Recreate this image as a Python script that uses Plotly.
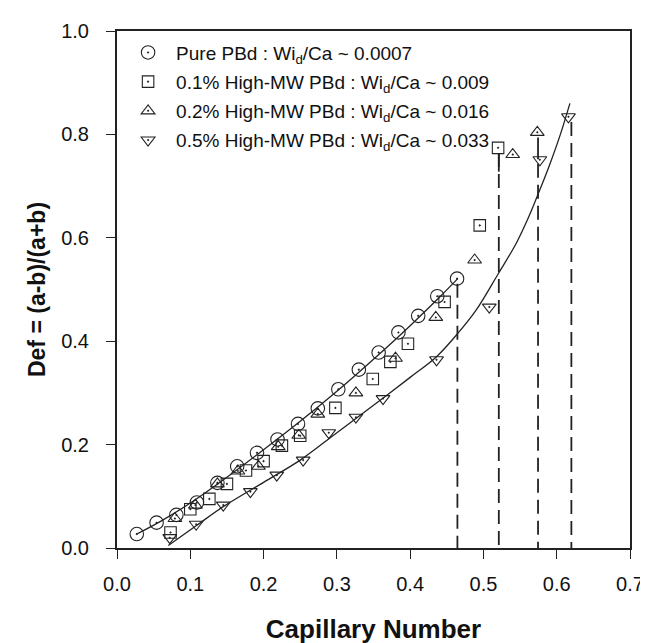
import plotly.graph_objects as go

# ---- data ----
pure_x = [0.027, 0.054, 0.081, 0.109, 0.137, 0.164, 0.191, 0.219, 0.247, 0.274,
          0.302, 0.330, 0.357, 0.384, 0.411, 0.437, 0.464]
pure_y = [0.027, 0.049, 0.064, 0.088, 0.126, 0.158, 0.184, 0.210, 0.240, 0.270,
          0.307, 0.345, 0.378, 0.417, 0.449, 0.487, 0.521]

p01_x = [0.073, 0.100, 0.126, 0.150, 0.176, 0.200, 0.225, 0.250, 0.298, 0.349,
         0.373, 0.397, 0.447, 0.495, 0.520]
p01_y = [0.030, 0.075, 0.095, 0.124, 0.150, 0.168, 0.198, 0.217, 0.271, 0.327,
         0.360, 0.395, 0.476, 0.624, 0.774]

p02_x = [0.079, 0.107, 0.137, 0.165, 0.193, 0.220, 0.248, 0.274, 0.326, 0.380,
         0.435, 0.488, 0.540, 0.5735]
p02_y = [0.057, 0.083, 0.124, 0.149, 0.158, 0.196, 0.218, 0.259, 0.300, 0.367,
         0.446, 0.557, 0.761, 0.804]

p05_x = [0.072, 0.108, 0.145, 0.182, 0.218, 0.254, 0.289, 0.326, 0.363, 0.436,
         0.508, 0.577, 0.616]
p05_y = [0.020, 0.046, 0.083, 0.109, 0.141, 0.170, 0.223, 0.253, 0.289, 0.364,
         0.466, 0.751, 0.834]

# fitted curves
fit_pure_x = [0.027, 0.06, 0.1, 0.15, 0.2, 0.25, 0.3, 0.35, 0.4, 0.44, 0.465]
fit_pure_y = [0.027, 0.052, 0.087, 0.137, 0.190, 0.245, 0.303, 0.365, 0.430, 0.485, 0.521]

fit_p05_x = [0.070, 0.108, 0.145, 0.2, 0.25, 0.3, 0.35, 0.4, 0.436, 0.465, 0.49,
             0.52, 0.545, 0.562, 0.575, 0.59, 0.605, 0.618]
fit_p05_y = [0.005, 0.043, 0.080, 0.127, 0.170, 0.223, 0.276, 0.330, 0.370, 0.415, 0.460,
             0.530, 0.590, 0.641, 0.686, 0.740, 0.800, 0.860]

# critical capillary numbers (vertical drop lines)
crit_x = [0.4645, 0.521, 0.5745, 0.620]
crit_top = [0.511, 0.764, 0.743, 0.824]
solid_x = [0.521, 0.5745]
solid_lo = [0.728, 0.752]
solid_hi = [0.764, 0.794]

names = [
    "Pure PBd : Wi<sub>d</sub>/Ca ~ 0.0007",
    "0.1% High-MW PBd : Wi<sub>d</sub>/Ca ~ 0.009",
    "0.2% High-MW PBd : Wi<sub>d</sub>/Ca ~ 0.016",
    "0.5% High-MW PBd : Wi<sub>d</sub>/Ca ~ 0.033",
]

INK = "#222222"
TXT = "#111111"
FONT = "Liberation Sans, Arial, sans-serif"

fig = go.Figure()

# fit curves
fig.add_trace(go.Scatter(x=fit_pure_x, y=fit_pure_y, mode="lines",
                         line=dict(color=INK, width=1.3, shape="spline"),
                         showlegend=False, hoverinfo="skip"))
fig.add_trace(go.Scatter(x=fit_p05_x, y=fit_p05_y, mode="lines",
                         line=dict(color=INK, width=1.3, shape="spline"),
                         showlegend=False, hoverinfo="skip"))

# dashed drop lines
for cx, ct in zip(crit_x, crit_top):
    fig.add_trace(go.Scatter(x=[cx, cx], y=[ct, 0], mode="lines",
                             line=dict(color=INK, width=1.8, dash="14px,7px"),
                             showlegend=False, hoverinfo="skip"))
for sx, lo, hi in zip(solid_x, solid_lo, solid_hi):
    fig.add_trace(go.Scatter(x=[sx, sx], y=[hi, lo], mode="lines",
                             line=dict(color=INK, width=1.8),
                             showlegend=False, hoverinfo="skip"))

series = [
    (pure_x, pure_y, "circle-open-dot", 13.5),
    (p01_x, p01_y, "square-open-dot", 11.5),
    (p02_x, p02_y, "triangle-up-open-dot", 12),
    (p05_x, p05_y, "triangle-down-open-dot", 12),
]
for i, (xs, ys, sym, sz) in enumerate(series):
    fig.add_trace(go.Scatter(
        x=xs, y=ys, mode="markers", name=names[i], legendgroup=f"g{i}",
        marker=dict(symbol=sym, size=sz, color=INK, line=dict(color=INK, width=1.1)),
    ))

fig.update_layout(
    width=648, height=643,
    margin=dict(l=109, r=15, t=19, b=96),
    paper_bgcolor="white", plot_bgcolor="white",
    font=dict(family=FONT, size=19, color=TXT),
    showlegend=True,
    legend=dict(x=0.006, y=0.995, xanchor="left", yanchor="top",
                bgcolor="rgba(0,0,0,0)", font=dict(size=19, color=TXT),
                tracegroupgap=1.5, itemwidth=46),
    xaxis=dict(range=[0, 0.7], tick0=0, dtick=0.1, tickformat=".1f",
               showline=True, linecolor=INK, linewidth=2, mirror=True,
               ticks="outside", ticklen=9, tickwidth=1.3, tickcolor=INK,
               showgrid=False, zeroline=False, ticklabelstandoff=8,
               tickfont=dict(size=20, color=TXT),
               title=dict(text="<b>Capillary Number</b>", font=dict(size=26, color=TXT), standoff=26)),
    yaxis=dict(range=[0, 1.0], tick0=0, dtick=0.2, tickformat=".1f",
               showline=True, linecolor=INK, linewidth=2, mirror=True,
               ticks="outside", ticklen=9, tickwidth=1.3, tickcolor=INK,
               showgrid=False, zeroline=False, ticklabelstandoff=13,
               tickfont=dict(size=20, color=TXT),
               title=dict(text="<b>Def = (a-b)/(a+b)</b>", font=dict(size=23, color=TXT), standoff=9)),
)

fig.write_html("out.html")
